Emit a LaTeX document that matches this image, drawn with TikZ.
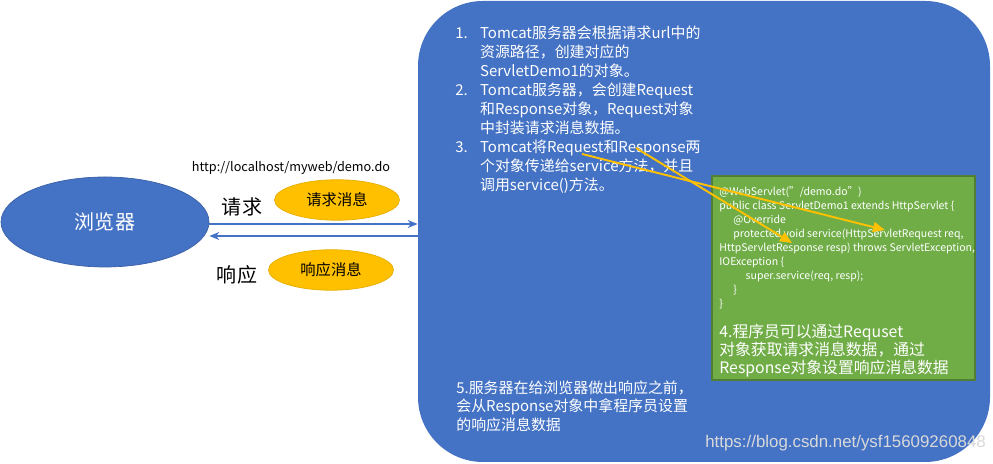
\documentclass[tikz,border=0pt]{standalone}
\usepackage{fontspec}
\setmainfont{Noto Sans CJK SC}
\newfontfamily\markfont{Liberation Sans}
\usetikzlibrary{arrows.meta,calc,shapes.geometric}
\definecolor{slideblue}{HTML}{4472C4}
\definecolor{slideorange}{HTML}{FFC000}
\definecolor{slidegreen}{HTML}{70AD47}
\definecolor{greenedge}{HTML}{507E32}
\tikzset{
  browser node/.style={
    ellipse, fill=slideblue, draw=slideblue!85!black, line width=0.4pt,
    text=white, minimum width=4.16cm, minimum height=1.80cm,
    font=\fontsize{11.4}{13}\selectfont
  },
  message node/.style={
    ellipse, fill=slideorange, draw=slideorange!90!black, line width=0.4pt,
    minimum width=2.50cm, minimum height=0.81cm,
    font=\fontsize{8.7}{10}\selectfont
  },
  label text/.style={font=\fontsize{11.4}{13}\selectfont},
  server box/.style={
    rectangle, fill=slideblue, rounded corners=1.3cm,
    minimum width=11.44cm, minimum height=9.22cm
  },
  code box/.style={
    rectangle, fill=slidegreen, draw=greenedge, line width=0.8pt,
    minimum width=5.26cm, minimum height=4.08cm
  },
  white text/.style={text=white, align=left, inner sep=0pt},
  link arrow/.style={
    slideblue, line width=0.6pt,
    -{Stealth[length=2mm,width=1.6mm]}
  },
  pointer arrow/.style={
    slideorange, line width=1.1pt,
    -{Triangle[length=2.4mm,width=2mm]}
  }
}

\begin{document}
\begin{tikzpicture}

  \useasboundingbox (0,0) rectangle (19.86,9.28);

  % Browser side with the two messages.
  \node[browser node] (browser) at (2.10,4.84) {浏览器};
  \node[font=\fontsize{7.2}{9}\selectfont, inner sep=0pt] (url)
    at (5.82,5.92) {http://localhost/myweb/demo.do};
  \node[label text] (reqlabel) at (4.84,5.14) {请求};
  \node[message node] (reqmsg) at (6.74,5.28) {请求消息};
  \node[label text] (resplabel) at (4.74,3.78) {响应};
  \node[message node] (respmsg) at (6.62,3.88) {响应消息};

  % Server area and the servlet code panel.
  \node[server box] (server) at (14.08,4.65) {};
  \node[code box] (servlet) at (16.87,3.72) {};

  % Request and response between browser and server.
  \coordinate (req y) at (0,4.80);
  \coordinate (resp y) at (0,4.56);
  \draw[link arrow] (browser.east |- req y) -- (server.west |- req y);
  \draw[link arrow] (server.west |- resp y) -- (browser.east |- resp y);

  % Steps 1 to 3.
  \node[white text, anchor=north west, font=\fontsize{8.5}{10.8}\selectfont]
    (steps) at (9.10,8.78) {%
    \begin{tabular}{@{}l@{\hspace{7pt}}l@{}}
      1. & Tomcat服务器会根据请求url中的\\
         & 资源路径，创建对应的\\
         & ServletDemo1的对象。\\
      2. & Tomcat服务器，会创建Request\\
         & 和Response对象，Request对象\\
         & 中封装请求消息数据。\\
      3. & Tomcat将Request和Response两\\
         & 个对象传递给service方法，并且\\
         & 调用service()方法。
    \end{tabular}};

  % Servlet code.
  \node[white text, anchor=north west, font=\fontsize{6}{8}\selectfont]
    (code) at (14.38,5.56) {%
    @WebServlet("/demo.do")\\
    public class ServletDemo1 extends HttpServlet \{\\
    \hspace*{8pt}@Override\\
    \hspace*{8pt}protected void service(HttpServletRequest req,\\
    HttpServletResponse resp) throws ServletException,\\
    IOException \{\\
    \hspace*{15pt}super.service(req, resp);\\
    \hspace*{8pt}\}\\
    \}};

  % Step 4 inside the code panel, step 5 below.
  \node[white text, anchor=north west, font=\fontsize{9}{10.3}\selectfont]
    (step4) at (14.38,2.80) {%
    4.程序员可以通过Requset\\
    对象获取请求消息数据，通过\\
    Response对象设置响应消息数据};
  \node[white text, anchor=north west, font=\fontsize{8.5}{10.8}\selectfont]
    (step5) at (9.12,1.68) {%
    5.服务器在给浏览器做出响应之前，\\
    会从Response对象中拿程序员设置\\
    的响应消息数据};

  % Pointers from step 3 to the service() parameters.
  \coordinate (req word) at (11.64,6.20);
  \coordinate (req param) at (17.70,4.68);
  \coordinate (resp word) at (12.72,6.32);
  \coordinate (resp param) at (15.84,4.42);
  \draw[pointer arrow] (req word) -- (req param);
  \draw[pointer arrow] (resp word) -- (resp param);

  % Watermark.
  \node[anchor=west, inner sep=0pt, text=black!15,
    font=\markfont\fontsize{9.6}{11}\selectfont]
    (mark) at (14.10,0.42) {https://blog.csdn.net/ysf15609260848};

\end{tikzpicture}
\end{document}
